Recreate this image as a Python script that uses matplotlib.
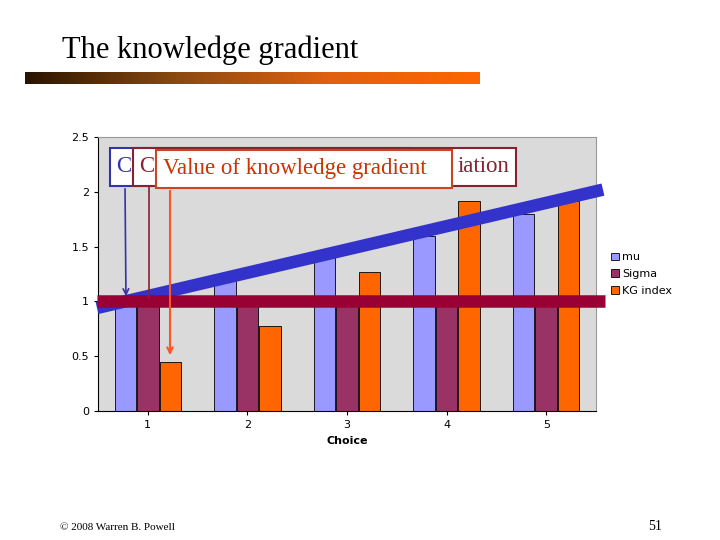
import numpy as np
import matplotlib.pyplot as plt
from matplotlib.patches import Rectangle
from matplotlib.colors import LinearSegmentedColormap

choices = [1, 2, 3, 4, 5]
mu = [1.0, 1.2, 1.4, 1.6, 1.8]
sigma = [1.0, 1.0, 1.0, 1.0, 1.0]
kg_index = [0.45, 0.78, 1.27, 1.92, 1.92]

W, H = 720, 540
fig = plt.figure(figsize=(7.2, 5.4), dpi=100)

def fx(px):
    return px / W

def fy(py):
    return 1 - py / H

# title and gradient rule
fig.text(fx(62), fy(50), 'The knowledge gradient', family='Liberation Serif', fontsize=22, va='center')
grad = np.linspace(0, 1, 256).reshape(1, -1)
cmap = LinearSegmentedColormap.from_list('g', ['#2a1400', '#8a4a10', '#e06010', '#ff6600'])
gax = fig.add_axes([fx(25), fy(84), fx(480) - fx(25), fy(72) - fy(84)])
gax.imshow(grad, aspect='auto', cmap=cmap)
gax.axis('off')

ax = fig.add_axes([fx(98), fy(411), fx(596) - fx(98), fy(137) - fy(411)])
ax.set_facecolor('#dadada')
x = np.array(choices)
w = 0.215
ax.bar(x - 0.225, mu, w, color='#9999ff', edgecolor='black', linewidth=0.6, label='mu')
ax.bar(x, sigma, w, color='#993366', edgecolor='black', linewidth=0.6, label='Sigma')
ax.bar(x + 0.225, kg_index, w, color='#ff6600', edgecolor='black', linewidth=0.6, label='KG index')
ax.set_xlim(0.5, 5.5)
ax.set_ylim(0, 2.5)
ax.set_xticks(choices)
ax.set_yticks([0, 0.5, 1, 1.5, 2, 2.5])
ax.set_yticklabels(['0', '0.5', '1', '1.5', '2', '2.5'])
ax.tick_params(labelsize=8, length=3)
for s in ['top', 'right']:
    ax.spines[s].set_color('#999999')
ax.set_xlabel('Choice', fontsize=8, fontweight='bold')
ax.legend(loc='center left', bbox_to_anchor=(1.01, 0.5), frameon=False, fontsize=8,
          handlelength=0.7, handleheight=0.7, handletextpad=0.3, labelspacing=0.6)

# thick trend lines
ax.plot([0.49, 5.57], [0.94, 2.02], color='#3333cc', lw=9, solid_capstyle='butt', clip_on=False, zorder=5)
ax.plot([0.49, 5.59], [1.0, 1.0], color='#990033', lw=9, solid_capstyle='butt', clip_on=False, zorder=6)

# annotation boxes (overlapping; only visible text pieces are drawn)
boxes = [
    (110, 148, 300, 38, '#3333aa'),
    (133, 148, 383, 38, '#882233'),
    (156, 150, 296, 38, '#cc4422'),
]
for i, (bx, by, bw, bh, ec) in enumerate(boxes):
    r = Rectangle((fx(bx), fy(by + bh)), bw / W, bh / H, transform=fig.transFigure,
                  facecolor='white', edgecolor=ec, lw=1.5, zorder=10 + 2 * i)
    fig.add_artist(r)

pieces = [
    (116, 167, 'C', '#3333aa', 'left'),
    (139, 167, 'C', '#882233', 'left'),
    (509, 167, 'iation', '#882233', 'right'),
    (163, 169, 'Value of knowledge gradient', '#cc3300', 'left'),
]
for px, py, txt, tc, ha in pieces:
    fig.text(fx(px), fy(py), txt, family='Liberation Serif', fontsize=16.5, color=tc,
             va='center', ha=ha, zorder=30)

fig.add_artist(plt.Line2D([fx(149), fx(149)], [fy(186), fy(298)], color='#882233', lw=1.2))
ax.annotate('', xy=(fx(126), fy(299)), xytext=(fx(125), fy(186)), xycoords='figure fraction',
            arrowprops=dict(arrowstyle='->', color='#3333aa', lw=1.2), zorder=20)
ax.annotate('', xy=(fx(170), fy(358)), xytext=(fx(170), fy(188)), xycoords='figure fraction',
            arrowprops=dict(arrowstyle='->', color='#ff5522', lw=1.5), zorder=20)

fig.text(fx(60), fy(527), '\u00a9 2008 Warren B. Powell', family='Liberation Serif', fontsize=8, va='center')
fig.text(fx(648), fy(527), '51', family='Liberation Serif', fontsize=10, va='center')

fig.savefig('out.png', dpi=100)
